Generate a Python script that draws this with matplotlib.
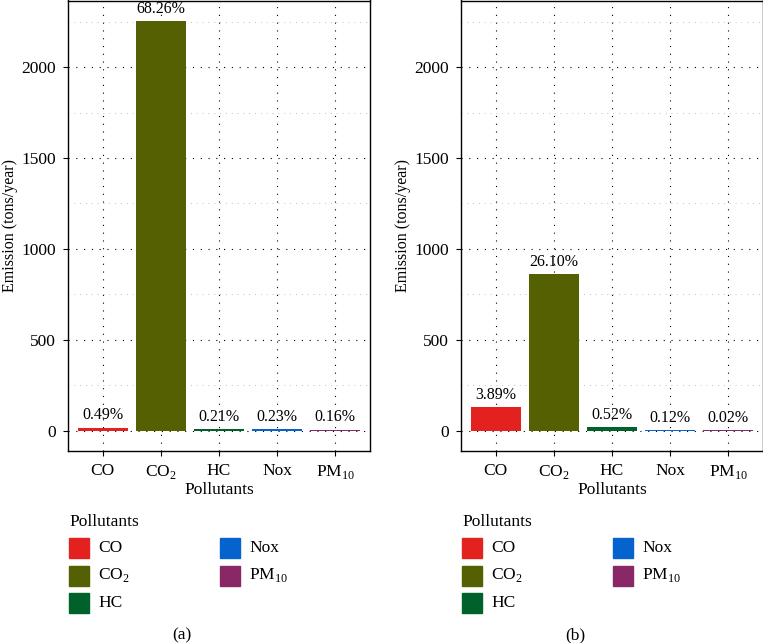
"""
Emission by pollutant, two scenarios (a) and (b)
"""

import matplotlib
matplotlib.use("Agg")
import matplotlib.pyplot as plt
from matplotlib.patches import Rectangle
from matplotlib.ticker import MultipleLocator

# data
pollutants = ["CO", "CO2", "HC", "Nox", "PM10"]
tick_labels = ["CO", r"CO$_\mathregular{2}$", "HC", "Nox", r"PM$_\mathregular{10}$"]
colors = ["#E3211F", "#556002", "#00622A", "#0563CE", "#892767"]

emission_a = [16.2, 2254.0, 6.9, 7.6, 5.3]
pct_a = ["0.49%", "68.26%", "0.21%", "0.23%", "0.16%"]

emission_b = [128.4, 861.8, 17.2, 4.0, 0.7]
pct_b = ["3.89%", "26.10%", "0.52%", "0.12%", "0.02%"]

plt.rcParams["font.family"] = "Liberation Serif"
plt.rcParams["mathtext.fontset"] = "custom"
plt.rcParams["mathtext.rm"] = "Liberation Serif"

W, H = 763, 643
fig = plt.figure(figsize=(W / 100, H / 100), dpi=100)


def px(x0, y0, w, h):
    # pixel box (top-left origin) -> figure fraction
    return [x0 / W, 1 - (y0 + h) / H, w / W, h / H]


def panel(left, values, pcts, caption):
    ax = fig.add_axes(px(left, 0.5, 302, 450.5))
    xs = range(len(pollutants))
    ax.bar(xs, values, width=0.87, color=colors, zorder=3)
    for x, v, p in zip(xs, values, pcts):
        ax.annotate(p, (x, v), xytext=(0, 3), textcoords="offset points",
                    ha="center", va="bottom", fontsize=11.5, zorder=4)
    ax.set_xlim(-0.6, 4.6)
    ax.set_ylim(-112.7, 2366.7)
    ax.yaxis.set_major_locator(MultipleLocator(500))
    ax.yaxis.set_minor_locator(MultipleLocator(250))
    ax.set_xticks(list(xs))
    ax.set_xticklabels(tick_labels)
    ax.tick_params(axis="both", which="major", length=3.6, width=0.8,
                   labelsize=12.5, direction="out")
    ax.tick_params(axis="x", pad=5)
    ax.tick_params(axis="y", pad=5)
    ax.tick_params(axis="y", which="minor", length=0)
    ax.grid(True, which="major", color="black", linestyle=(0, (1, 6)),
            linewidth=0.8, zorder=0)
    ax.grid(True, which="minor", axis="y", color="#aaaaaa",
            linestyle=(0, (1, 6)), linewidth=0.6, zorder=0)
    for s in ax.spines.values():
        s.set_linewidth(1.0)
    ax.set_xlabel("Pollutants", fontsize=12.5, labelpad=1)
    ax.set_ylabel("Emission (tons/year)", fontsize=11.5)
    ax.yaxis.set_label_coords(-0.166, 0.5)

    # legend, drawn by hand to keep the ggplot-like layout
    lx = left + 1
    fig.text(lx / W, 1 - 522 / H, "Pollutants", fontsize=12.5,
             ha="left", va="center")
    for i, (lab, c) in enumerate(zip(tick_labels, colors)):
        col, row = divmod(i, 3)
        kx = lx + col * 151
        ky = 548 + row * 27.5
        fig.patches.append(Rectangle((kx / W, 1 - (ky + 10) / H), 20 / W, 20 / H,
                                     transform=fig.transFigure, color=c))
        fig.text((kx + 29) / W, 1 - ky / H, lab, fontsize=12.5,
                 ha="left", va="center")
    fig.text((left + 114) / W, 1 - 635 / H, caption, fontsize=12.5,
             ha="center", va="center")


panel(68, emission_a, pct_a, "(a)")
panel(461, emission_b, pct_b, "(b)")

fig.savefig("out.png", dpi=100)
